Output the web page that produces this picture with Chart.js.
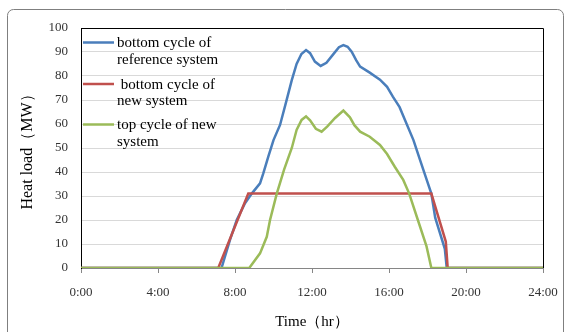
<!DOCTYPE html>
<html>
<head>
<meta charset="utf-8">
<script src="https://cdn.jsdelivr.net/npm/chart.js@4.4.0/dist/chart.umd.min.js"></script>
<style>
  html, body { margin: 0; padding: 0; background: #fff; }
  #wrap { width: 566px; height: 332px; }
</style>
</head>
<body>
<div id="wrap"><canvas id="heatChart" width="566" height="332"></canvas></div>
<script>
// hours of day (x) and heat load in MW (y)
const refHours = [0, 7.3, 7.74, 8.09, 8.52, 8.87, 9.3, 9.47, 9.73, 10.0, 10.34, 10.65, 10.95, 11.2, 11.45, 11.69, 11.9, 12.15, 12.45, 12.75, 13.1, 13.4, 13.63, 13.85, 14.06, 14.3, 14.5, 15.0, 15.53, 15.9, 16.2, 16.55, 16.83, 17.27, 17.55, 17.79, 17.96, 18.2, 18.4, 18.9, 19.0, 24];
const refLoad  = [0, 0, 11.7, 20, 27, 31, 35.3, 39.4, 46.4, 53.3, 59.6, 69, 78.3, 85, 89.2, 90.8, 89.5, 86, 84.2, 85.5, 89, 92, 92.9, 92.2, 90.1, 86.5, 83.9, 81.4, 78.5, 75.5, 71.4, 67, 61.7, 53.3, 46.5, 40.8, 36.7, 31, 21, 8, 0, 0];

const newBottomHours = [0, 7.13, 8.69, 18.2, 18.95, 19.05, 24];
const newBottomLoad  = [0, 0, 31, 31, 11, 0, 0];

const newTopHours = [0, 8.74, 9.3, 9.65, 9.82, 10.17, 10.55, 10.95, 11.2, 11.46, 11.69, 11.9, 12.2, 12.5, 12.8, 13.2, 13.63, 13.97, 14.2, 14.5, 15.0, 15.53, 15.9, 16.3, 16.74, 17.05, 17.5, 17.95, 18.2, 24];
const newTopLoad  = [0, 0, 6.1, 13, 20, 31, 41, 50, 57.5, 61.7, 63.2, 61.5, 58, 56.8, 59, 62.5, 65.6, 62.8, 59.5, 56.8, 54.7, 51.25, 47.5, 42.2, 36.7, 31, 20, 9, 0, 0];

const legendLines = [
    ['bottom cycle of', 'reference system'],
    [' bottom cycle of', 'new system'],
    ['top cycle of new', 'system']
];

const serif = "'Liberation Serif', 'DejaVu Serif', serif";

function toPoints(xs, ys) {
    return xs.map((x, i) => ({ x: x, y: ys[i] }));
}

// outer rounded frame, plot border, in-plot legend
const framePlugin = {
    id: 'frame',
    beforeDraw(chart) {
        const ctx = chart.ctx;
        ctx.save();
        ctx.strokeStyle = '#7f7f7f';
        ctx.lineWidth = 1;
        ctx.beginPath();
        ctx.roundRect(7.5, 9.5, 556, 330, 6);
        ctx.stroke();
        ctx.restore();
    },
    afterDatasetsDraw(chart) {
        const ctx = chart.ctx;
        const a = chart.chartArea;
        ctx.save();
        ctx.strokeStyle = '#000';
        ctx.lineWidth = 1;
        ctx.beginPath();
        ctx.moveTo(Math.round(a.left) + 0.5, Math.round(a.top) + 0.5);
        ctx.lineTo(Math.round(a.right) + 0.5, Math.round(a.top) + 0.5);
        ctx.lineTo(Math.round(a.right) + 0.5, Math.round(a.bottom));
        ctx.stroke();

        // legend
        const ys = [42.5, 84, 124.5];
        ctx.font = '15px ' + serif;
        ctx.textBaseline = 'middle';
        ctx.fillStyle = '#000';
        chart.data.datasets.forEach((ds, i) => {
            ctx.strokeStyle = ds.borderColor;
            ctx.lineWidth = 2.5;
            ctx.beginPath();
            ctx.moveTo(83, ys[i]);
            ctx.lineTo(114, ys[i]);
            ctx.stroke();
            legendLines[i].forEach((t, j) => {
                ctx.fillText(t, 117, ys[i] + 1 + j * 16.5);
            });
        });
        ctx.restore();
    }
};

const ctx = document.getElementById('heatChart').getContext('2d');
new Chart(ctx, {
    type: 'line',
    data: {
        datasets: [{
            label: 'bottom cycle of reference system',
            data: toPoints(refHours, refLoad),
            borderColor: '#4a7ebb',
            borderWidth: 2.5,
            pointRadius: 0,
            fill: false,
            order: 3
        },
        {
            label: 'bottom cycle of new system',
            data: toPoints(newBottomHours, newBottomLoad),
            borderColor: '#c0504d',
            borderWidth: 2.5,
            pointRadius: 0,
            fill: false,
            order: 2
        },
        {
            label: 'top cycle of new system',
            data: toPoints(newTopHours, newTopLoad),
            borderColor: '#9bbb59',
            borderWidth: 2.5,
            pointRadius: 0,
            fill: false,
            order: 1
        }]
    },
    options: {
        responsive: false,
        animation: false,
        layout: { padding: { top: 28, right: 23, left: 0, bottom: 0 } },
        plugins: {
            legend: { display: false },
            tooltip: { enabled: false }
        },
        scales: {
            x: {
                type: 'linear',
                min: 0,
                max: 24,
                afterFit: (s) => {
                    s.height = 64;
                    s.paddingLeft = 0;
                    s.paddingRight = 0;
                },
                ticks: {
                    stepSize: 4,
                    padding: 12,
                    color: '#333',
                    font: { family: serif, size: 13 },
                    callback: (v) => v + ':00'
                },
                grid: { drawOnChartArea: false, drawTicks: true, tickLength: 5, color: '#868686' },
                border: { color: '#868686', width: 1 },
                title: {
                    display: true,
                    text: 'Time（hr）',
                    color: '#000',
                    font: { family: serif, size: 15 },
                    padding: { top: 0, bottom: 1 }
                }
            },
            y: {
                min: 0,
                max: 100,
                afterFit: (s) => {
                    s.width = 81;
                    s.paddingTop = 0;
                    s.paddingBottom = 0;
                },
                ticks: {
                    stepSize: 10,
                    padding: 13,
                    color: '#333',
                    font: { family: serif, size: 13 }
                },
                grid: { color: '#d9d9d9', drawTicks: false },
                border: { color: '#000', width: 1 },
                title: {
                    display: true,
                    text: 'Heat load（MW）',
                    color: '#000',
                    font: { family: serif, size: 16 },
                    padding: { top: 18, bottom: 0 }
                }
            }
        }
    },
    plugins: [framePlugin]
});
</script>
</body>
</html>
